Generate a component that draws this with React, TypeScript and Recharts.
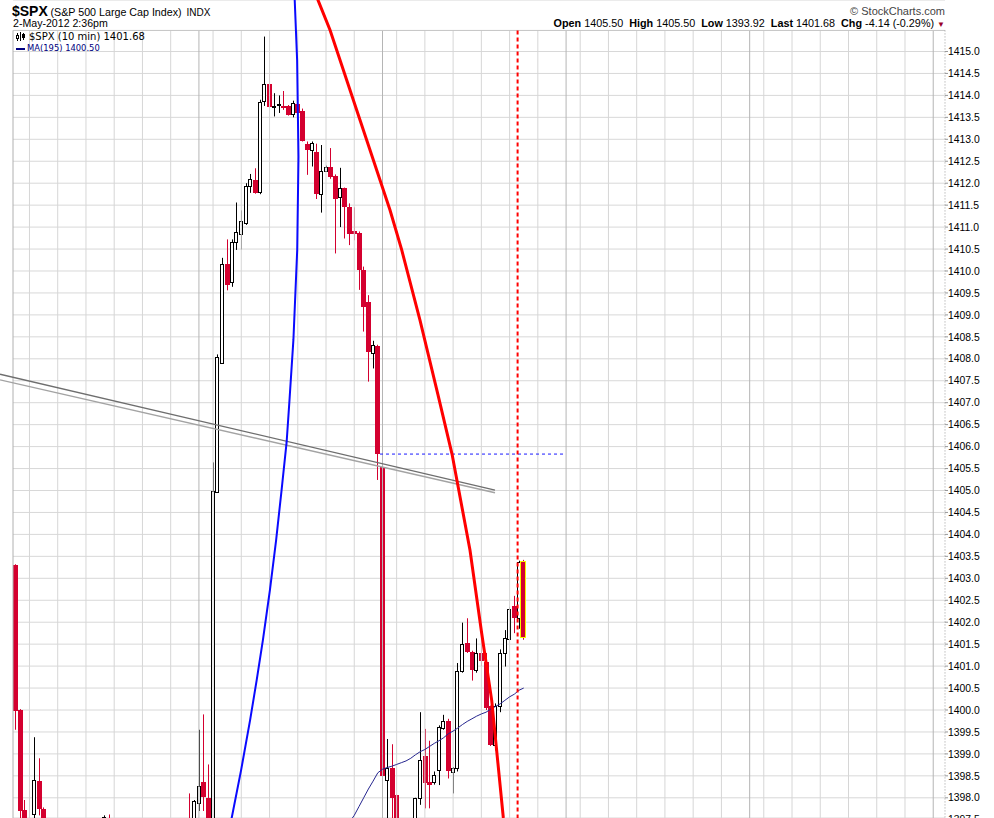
import React from 'react';
import {
  ComposedChart, Bar, Line, Scatter, XAxis, YAxis, CartesianGrid, ReferenceLine,
} from 'recharts';

// $SPX 10 min bars, 30-Apr-2012 09:30 (index 0) to 2-May-2012 14:30 (index 108).
// A lot of them sit below the visible price window, same as the original chart.
const opens = [
  1403.30, 1400.00, 1397.72, 1397.10, 1397.63, 1398.39, 1397.75, 1397.00, 1396.60, 1396.90,
  1396.70, 1396.30, 1396.60, 1396.95, 1396.80, 1397.10, 1396.90, 1397.20, 1397.30, 1397.15,
  1397.55, 1397.20, 1396.85, 1396.60, 1396.40, 1396.70, 1396.50, 1396.20, 1396.45, 1396.80,
  1396.60, 1396.90, 1397.05, 1396.95, 1396.75, 1397.00, 1397.30, 1397.20, 1397.00, 1397.90,
  1398.35, 1398.00, 1396.40, 1404.97, 1407.92, 1410.15, 1409.73, 1410.65, 1410.86, 1411.09,
  1411.94, 1412.07, 1411.78, 1413.87, 1414.26, 1413.74, 1413.78, 1413.76, 1413.76, 1413.57,
  1413.80, 1413.65, 1412.90, 1412.74, 1412.70, 1411.74, 1412.30, 1412.38, 1412.17, 1411.68,
  1411.88, 1411.46, 1410.90, 1410.86, 1410.02, 1409.30, 1408.13, 1408.30, 1405.53, 1398.42,
  1398.69, 1398.06, 1396.20, 1394.60, 1395.50, 1396.70, 1398.01, 1398.95, 1398.36, 1398.35,
  1398.62, 1399.61, 1399.76, 1398.60, 1398.67, 1400.88, 1401.52, 1401.31, 1400.91, 1401.29,
  1401.10, 1400.08, 1399.20, 1400.08, 1401.29, 1401.63, 1402.37, 1402.11, 1403.40,
];
const highs = [
  1403.32, 1400.02, 1397.95, 1398.17, 1399.38, 1398.90, 1397.78, 1397.30, 1397.10, 1397.20,
  1397.00, 1396.80, 1397.10, 1397.20, 1397.25, 1397.30, 1397.35, 1397.40, 1397.45, 1397.60,
  1397.62, 1397.35, 1397.10, 1396.90, 1396.80, 1397.00, 1396.70, 1396.60, 1396.90, 1397.10,
  1396.95, 1397.20, 1397.30, 1397.25, 1397.10, 1397.40, 1397.45, 1398.10, 1397.95, 1399.55,
  1399.90, 1398.76, 1405.64, 1408.10, 1410.30, 1410.72, 1410.72, 1411.56, 1411.38, 1412.00,
  1412.21, 1412.34, 1413.90, 1415.34, 1414.51, 1414.05, 1414.00, 1414.10, 1413.78, 1413.88,
  1413.82, 1413.70, 1412.95, 1412.95, 1412.90, 1412.87, 1412.40, 1412.80, 1412.20, 1412.35,
  1411.90, 1411.54, 1411.45, 1410.90, 1410.10, 1409.45, 1408.41, 1408.32, 1405.53, 1399.34,
  1399.22, 1398.08, 1396.50, 1395.70, 1396.90, 1398.00, 1399.95, 1399.57, 1399.30, 1398.60,
  1399.65, 1399.89, 1399.80, 1398.70, 1401.07, 1401.99, 1402.09, 1401.35, 1401.63, 1401.66,
  1401.30, 1400.10, 1400.15, 1401.38, 1401.82, 1402.35, 1402.60, 1403.40, 1403.42,
];
const lows = [
  1399.55, 1397.30, 1396.90, 1396.95, 1397.30, 1397.60, 1396.80, 1396.40, 1396.30, 1396.50,
  1396.10, 1396.00, 1396.40, 1396.60, 1396.70, 1396.80, 1396.85, 1397.00, 1397.05, 1397.10,
  1397.10, 1396.70, 1396.50, 1396.20, 1396.10, 1396.40, 1396.00, 1395.90, 1396.30, 1396.50,
  1396.40, 1396.70, 1396.80, 1396.60, 1396.50, 1396.80, 1397.00, 1396.90, 1396.90, 1397.70,
  1397.70, 1395.80, 1396.30, 1404.95, 1407.90, 1409.56, 1409.64, 1410.48, 1410.49, 1411.05,
  1411.78, 1411.76, 1411.75, 1413.76, 1413.70, 1413.52, 1413.60, 1413.67, 1413.54, 1413.50,
  1413.55, 1412.95, 1412.19, 1412.38, 1411.64, 1411.33, 1412.28, 1412.10, 1410.40, 1411.00,
  1410.74, 1410.59, 1410.70, 1409.57, 1408.62, 1407.48, 1407.78, 1405.24, 1396.50, 1397.30,
  1397.40, 1395.80, 1393.92, 1394.30, 1395.20, 1396.50, 1397.84, 1397.76, 1397.76, 1398.30,
  1398.29, 1399.55, 1398.44, 1398.10, 1398.60, 1400.85, 1401.30, 1400.67, 1400.85, 1401.00,
  1400.00, 1399.18, 1399.08, 1399.95, 1400.99, 1401.60, 1401.75, 1401.85, 1401.60,
];
const closes = [
  1399.98, 1397.70, 1397.10, 1397.55, 1398.40, 1397.76, 1397.00, 1396.60, 1396.90, 1396.70,
  1396.30, 1396.60, 1396.95, 1396.80, 1397.10, 1396.90, 1397.20, 1397.30, 1397.15, 1397.56,
  1397.20, 1396.85, 1396.60, 1396.40, 1396.70, 1396.50, 1396.20, 1396.45, 1396.80, 1396.60,
  1396.90, 1397.05, 1396.95, 1396.75, 1397.00, 1397.30, 1397.20, 1397.00, 1397.93, 1398.28,
  1398.00, 1396.40, 1405.00, 1408.04, 1410.17, 1409.68, 1410.65, 1410.88, 1411.15, 1411.94,
  1412.09, 1411.78, 1413.84, 1414.26, 1413.73, 1413.76, 1413.80, 1413.72, 1413.56, 1413.82,
  1413.60, 1412.97, 1412.76, 1412.91, 1411.74, 1412.27, 1412.38, 1412.15, 1411.64, 1411.88,
  1411.45, 1410.85, 1410.84, 1410.02, 1409.17, 1408.16, 1408.31, 1405.83, 1398.48, 1398.69,
  1398.01, 1396.20, 1394.60, 1395.50, 1396.70, 1397.99, 1398.87, 1398.33, 1398.29, 1398.51,
  1399.61, 1399.76, 1398.62, 1398.68, 1400.88, 1401.50, 1401.31, 1400.90, 1401.29, 1401.10,
  1400.05, 1399.20, 1400.08, 1401.29, 1401.63, 1402.31, 1402.09, 1403.38, 1401.68,
];

// MA(195) only comes into the window late on 1-May
const maStart = 71;
const maValues = [
  1397.45, 1397.60, 1397.80, 1398.00, 1398.20, 1398.38, 1398.57, 1398.65, 1398.69, 1398.72,
  1398.76, 1398.80, 1398.84, 1398.90, 1398.98, 1399.05, 1399.10, 1399.17, 1399.24, 1399.30,
  1399.37, 1399.46, 1399.52, 1399.59, 1399.67, 1399.74, 1399.80, 1399.86, 1399.91, 1399.95,
  1400.02, 1400.08, 1400.14, 1400.22, 1400.30, 1400.36, 1400.45, 1400.50,
];

const priceTicks = [
  1397.5, 1398, 1398.5, 1399, 1399.5, 1400, 1400.5, 1401, 1401.5, 1402, 1402.5, 1403,
  1403.5, 1404, 1404.5, 1405, 1405.5, 1406, 1406.5, 1407, 1407.5, 1408, 1408.5, 1409,
  1409.5, 1410, 1410.5, 1411, 1411.5, 1412, 1412.5, 1413, 1413.5, 1414, 1414.5, 1415,
];

// grid columns as bar indexes: hourly ones and session starts
const hourLines = [
  3, 9, 15, 21, 27, 33, 42, 48, 54, 60, 66, 72, 81, 87, 93, 99, 105, 111,
  120, 126, 132, 138, 144, 150, 159, 165, 171, 177, 183, 189,
];
const sessionLines = [39, 78, 117, 156, 195];

// hand drawn annotations, in (bar index, price)
const blueArc = [
  { i: 59.12, p: 1416.45 }, { i: 59.35, p: 1416.17 }, { i: 59.86, p: 1414.81 },
  { i: 60.15, p: 1412.6 }, { i: 59.88, p: 1410.48 }, { i: 59.07, p: 1408.43 },
  { i: 58.24, p: 1407.06 }, { i: 57.63, p: 1406.1 }, { i: 56.56, p: 1405.01 },
  { i: 55.4, p: 1403.87 }, { i: 54.08, p: 1402.73 }, { i: 52.59, p: 1401.59 },
  { i: 51.27, p: 1400.68 }, { i: 49.87, p: 1399.77 }, { i: 47.96, p: 1398.63 },
  { i: 45.96, p: 1397.54 }, { i: 45.01, p: 1397.04 },
];
const redArc = [
  { i: 63.28, p: 1416.45 }, { i: 64.3, p: 1416.17 }, { i: 66.85, p: 1415.49 },
  { i: 73.22, p: 1413.44 }, { i: 79.59, p: 1411.39 }, { i: 82.08, p: 1410.48 },
  { i: 85.96, p: 1408.88 }, { i: 89.79, p: 1407.18 }, { i: 92.77, p: 1405.83 },
  { i: 96.59, p: 1403.64 }, { i: 99.07, p: 1401.75 }, { i: 101.2, p: 1400.22 },
  { i: 103.67, p: 1397.54 }, { i: 104.13, p: 1397.15 },
];
const trendUpper = [{ x: -3.26, y: 1407.65 }, { x: 101.9, y: 1405.01 }];
const trendLower = [{ x: -3.26, y: 1407.52 }, { x: 101.9, y: 1404.95 }];
const prevClose = 1405.83;
const prevCloseSpan = [77.47, 116.8];
const markerBar = 106.7;

const X_DOMAIN: [number, number] = [-0.5, 197.5];
const Y_DOMAIN: [number, number] = [1397.54, 1416.173];
const FRAME_TOP = 1415.48;
const FRAME_BOTTOM = 1397.0;

const RED = '#d4002f';
const SANS = '"Liberation Sans", Arial, sans-serif';
const VERDANA = '"DejaVu Sans", Verdana, sans-serif';

const lastIndex = closes.length - 1;
const candles = opens.map((o, i) => ({
  i,
  o,
  h: highs[i],
  l: lows[i],
  c: closes[i],
  ma: i >= maStart ? maValues[i - maStart] : null,
}));

function Candle(props: any) {
  const { x, y, width, height, payload } = props;
  if (!payload || !Number.isFinite(x) || !Number.isFinite(y)) return null;
  const { o, h, l, c, i } = payload;
  const top = Math.min(y, y + height);
  const span = Math.abs(height);
  const k = h > l ? span / (h - l) : 0;
  const col = Math.round(x + width / 2);
  const yO = top + (h - o) * k;
  const yC = top + (h - c) * k;
  const bTop = Math.round(Math.min(yO, yC));
  const bH = Math.max(Math.round(Math.abs(yC - yO)), 1);
  if (c >= o) {
    return (
      <g>
        <line x1={col + 0.5} x2={col + 0.5} y1={top} y2={top + span} stroke="#000" strokeWidth={1} />
        <rect x={col - 1.5} y={bTop + 0.5} width={3} height={bH} fill="#fff" stroke="#000" strokeWidth={1} />
      </g>
    );
  }
  const last = i === lastIndex;
  return (
    <g>
      <line x1={col + 0.5} x2={col + 0.5} y1={top} y2={top + span} stroke={RED} strokeWidth={1} />
      <rect
        x={last ? col - 2.5 : col - 2}
        y={last ? bTop + 0.5 : bTop}
        width={5}
        height={bH}
        fill={RED}
        stroke={last ? '#f5f500' : 'none'}
        strokeWidth={1}
      />
    </g>
  );
}

const noDot = () => <g />;

export default function App() {
  return (
    <div
      style={{
        position: 'absolute', left: 0, top: 0, width: 994, height: 818,
        overflow: 'hidden', background: '#fff', fontFamily: SANS, color: '#000',
      }}
    >
      <ComposedChart
        width={994}
        height={818}
        data={candles}
        margin={{ top: 0, right: 0, bottom: 0, left: 13 }}
      >
        <CartesianGrid stroke="#d8d8d8" strokeWidth={1} vertical={false} />
        <XAxis dataKey="i" type="number" domain={X_DOMAIN} allowDataOverflow hide />
        <XAxis xAxisId="ann" dataKey="i" type="number" domain={X_DOMAIN} allowDataOverflow hide />
        <YAxis
          orientation="right"
          type="number"
          domain={Y_DOMAIN}
          allowDataOverflow
          ticks={priceTicks}
          interval={0}
          width={49}
          axisLine={false}
          tickLine={{ stroke: '#999' }}
          tickSize={3}
          tickMargin={0}
          tick={{ fontSize: 10.4, fill: '#000', fontFamily: SANS }}
          tickFormatter={(v: number) => v.toFixed(1)}
        />

        {/* time grid */}
        {hourLines.map((v) => (
          <ReferenceLine key={'h' + v} xAxisId="ann" ifOverflow="visible" stroke="#d6d6d6"
            segment={[{ x: v, y: FRAME_TOP }, { x: v, y: FRAME_BOTTOM }]} />
        ))}
        {sessionLines.map((v) => (
          <ReferenceLine key={'s' + v} xAxisId="ann" ifOverflow="visible" stroke="#b5b5b5"
            segment={[{ x: v, y: FRAME_TOP }, { x: v, y: FRAME_BOTTOM }]} />
        ))}

        {/* chart frame */}
        <ReferenceLine xAxisId="ann" ifOverflow="visible" stroke="#c4c4c4"
          segment={[{ x: -0.49, y: FRAME_TOP }, { x: 197.49, y: FRAME_TOP }]} />
        <ReferenceLine xAxisId="ann" ifOverflow="visible" stroke="#b0b0b0"
          segment={[{ x: X_DOMAIN[0], y: FRAME_TOP }, { x: X_DOMAIN[0], y: FRAME_BOTTOM }]} />
        <ReferenceLine xAxisId="ann" ifOverflow="visible" stroke="#9a9a9a" strokeDasharray="1 2"
          segment={[{ x: X_DOMAIN[1], y: FRAME_TOP }, { x: X_DOMAIN[1], y: FRAME_BOTTOM }]} />

        <Bar dataKey={(d: any) => [d.l, d.h]} barSize={4} shape={Candle} isAnimationActive={false} />
        <Line dataKey="ma" type="linear" stroke="#26268f" strokeWidth={1} dot={false}
          activeDot={false} isAnimationActive={false} />

        {/* trendline, previous close, time marker */}
        <ReferenceLine xAxisId="ann" ifOverflow="visible" segment={trendLower} stroke="#a3a3a3" strokeWidth={1.4} />
        <ReferenceLine xAxisId="ann" ifOverflow="visible" segment={trendUpper} stroke="#6e6e6e" strokeWidth={1.4} />
        <ReferenceLine xAxisId="ann" ifOverflow="visible" stroke="#1a1aff" strokeDasharray="3 3"
          segment={[{ x: prevCloseSpan[0], y: prevClose }, { x: prevCloseSpan[1], y: prevClose }]} />
        <ReferenceLine xAxisId="ann" ifOverflow="visible" stroke="#ff0000" strokeWidth={2} strokeDasharray="4 3"
          segment={[{ x: markerBar, y: FRAME_TOP }, { x: markerBar, y: FRAME_BOTTOM }]} />

        <Scatter xAxisId="ann" data={blueArc} dataKey="p" fill="#0000ff" lineType="joint"
          line={{ stroke: '#0a0aff', strokeWidth: 2 }} shape={noDot} isAnimationActive={false} />
        <Scatter xAxisId="ann" data={redArc} dataKey="p" fill="#ff0000" lineType="joint"
          line={{ stroke: '#ff0000', strokeWidth: 3 }} shape={noDot} isAnimationActive={false} />
      </ComposedChart>

      {/* header */}
      <div style={{ position: 'absolute', left: 12, top: 4, fontSize: 14, lineHeight: 1, fontWeight: 'bold' }}>$SPX</div>
      <div style={{ position: 'absolute', left: 50.5, top: 6.8, fontSize: 10.7, lineHeight: 1, whiteSpace: 'nowrap' }}>
        (S&amp;P 500 Large Cap Index)
      </div>
      <div style={{ position: 'absolute', left: 186.5, top: 7.5, fontSize: 10, lineHeight: 1 }}>INDX</div>
      <div style={{ position: 'absolute', left: 13, top: 18.3, fontSize: 10.6, lineHeight: 1, whiteSpace: 'nowrap' }}>
        2-May-2012 2:36pm
      </div>
      <div style={{ position: 'absolute', right: 49, top: 6, fontSize: 11, lineHeight: 1, color: '#444', whiteSpace: 'nowrap' }}>
        © StockCharts.com
      </div>
      <div
        style={{
          position: 'absolute', right: 49, top: 18.3, fontSize: 10.8, lineHeight: 1,
          whiteSpace: 'nowrap', display: 'flex', alignItems: 'baseline',
        }}
      >
        {[
          ['Open', '1405.50'], ['High', '1405.50'], ['Low', '1393.92'], ['Last', '1401.68'], ['Chg', '-4.14 (-0.29%)'],
        ].map(([k, v]) => (
          <span key={k} style={{ marginRight: 6 }}>
            <b>{k}</b> {v}
          </span>
        ))}
        <span style={{ color: '#99002a', fontSize: 8, marginLeft: -3 }}>▼</span>
      </div>

      {/* legend */}
      <svg width={10} height={10} style={{ position: 'absolute', left: 16, top: 32 }}>
        <path d="M1.5 1v8M4.5 0v9M7.5 1v7" stroke="#000" strokeWidth={1} />
        <rect x={0.5} y={3.5} width={2} height={3} fill="#fff" stroke="#000" />
        <rect x={6.5} y={2.5} width={2} height={3} fill="#000" stroke="#000" />
      </svg>
      <div style={{ position: 'absolute', left: 29, top: 31.5, fontSize: 10, lineHeight: 1, fontFamily: VERDANA, whiteSpace: 'nowrap' }}>
        $SPX (10 min) 1401.68
      </div>
      <div style={{ position: 'absolute', left: 16, top: 48, width: 9, height: 2, background: '#000080' }} />
      <div style={{ position: 'absolute', left: 27, top: 44.2, fontSize: 8.4, lineHeight: 1, fontFamily: VERDANA, color: '#000080', whiteSpace: 'nowrap' }}>
        MA(195) 1400.50
      </div>
    </div>
  );
}
